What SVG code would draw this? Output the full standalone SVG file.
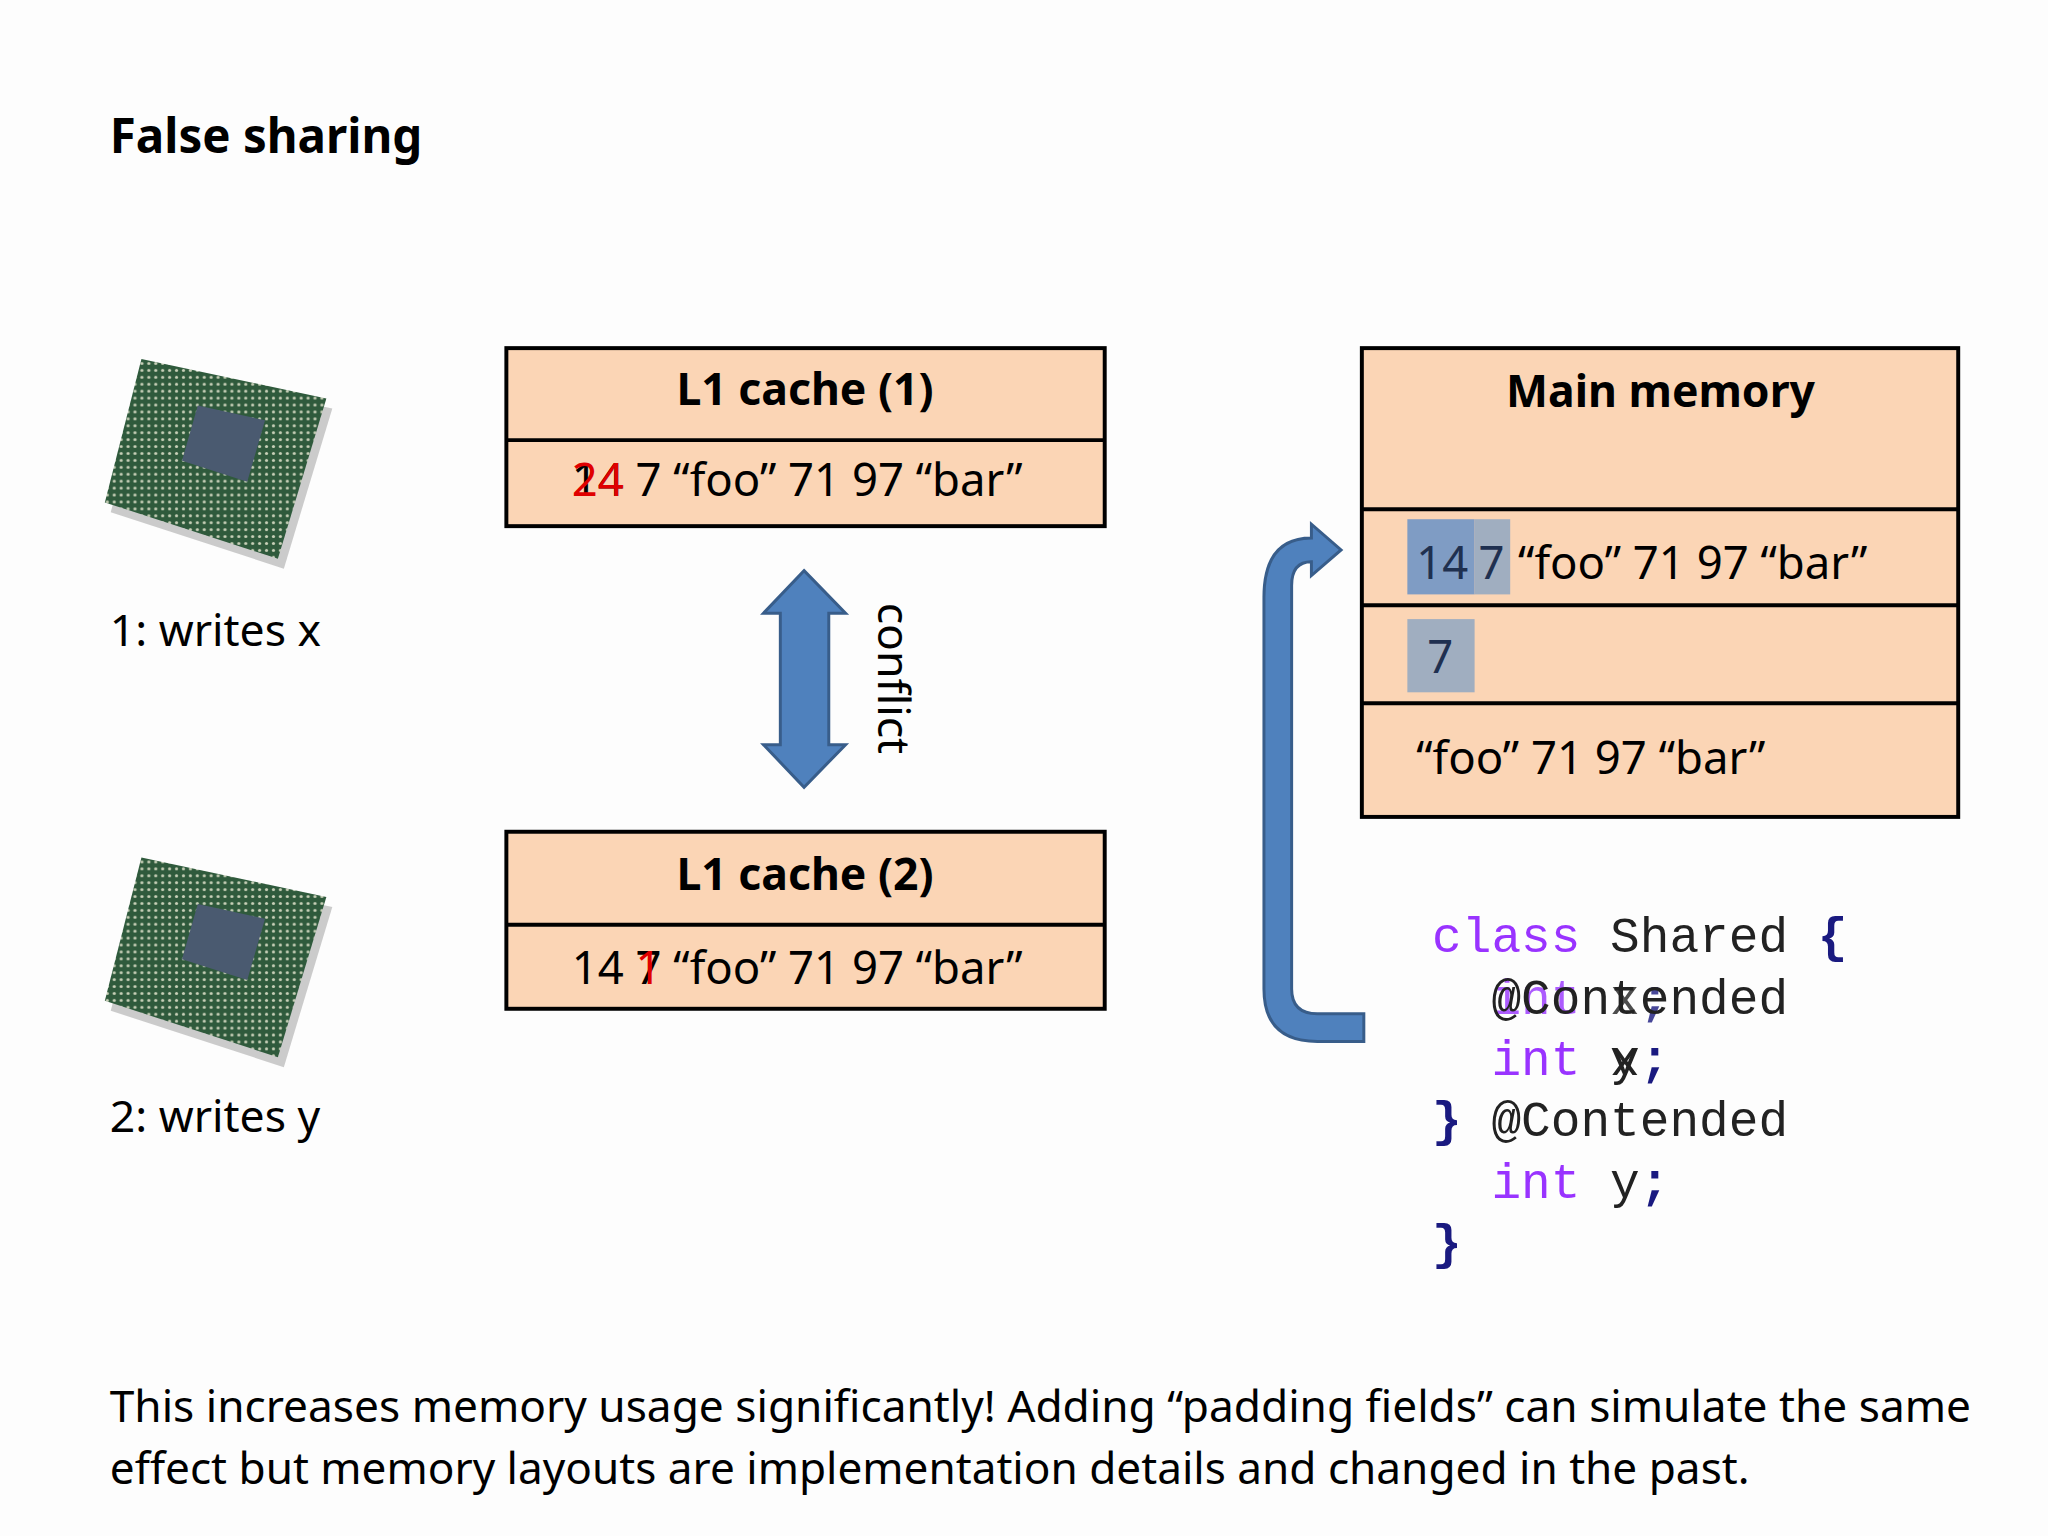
<svg xmlns="http://www.w3.org/2000/svg" width="2048" height="1536" viewBox="0 0 2048 1536">
<style>
.s{font-family:"Noto Sans","Open Sans",sans-serif;fill:#000}
.b{font-weight:bold}
.box{fill:#fbd5b5;stroke:#000;stroke-width:4}
.m{font-family:"Liberation Mono","DejaVu Sans Mono",monospace;font-size:50px;fill:#222;white-space:pre}
.kw{fill:#9933ff}
.br{fill:#1a1a80;font-weight:bold}
</style>
<defs>
<pattern id="dots" width="7" height="7" patternUnits="userSpaceOnUse">
<rect width="7" height="7" fill="#2f5a3c"/><circle cx="3.5" cy="3.5" r="1.6" fill="#c8d0b8"/>
</pattern>
</defs>
<rect width="2048" height="1536" fill="#fdfdfd"/>
<g transform="scale(0.989)">
<text class="s b" x="111" y="155" font-size="48">False sharing</text>
<g id="cpu1">
<polygon points="143,363 330,403 281,565 106,508" fill="#9a9a9a" opacity="0.5" transform="translate(6,10)"/>
<polygon points="143,363 330,403 281,565 106,508" fill="url(#dots)"/>
<polygon points="200,410 268,425 250,487 184,466" fill="#4a5a70"/>
<text class="s" x="111" y="653" font-size="45">1: writes x</text>
</g>
<g id="cpu2">
<polygon points="143,867 330,907 281,1069 106,1012" fill="#9a9a9a" opacity="0.5" transform="translate(6,10)"/>
<polygon points="143,867 330,907 281,1069 106,1012" fill="url(#dots)"/>
<polygon points="200,914 268,929 250,991 184,970" fill="#4a5a70"/>
<text class="s" x="111" y="1145" font-size="45">2: writes y</text>
</g>
<g id="l1a">
<rect class="box" x="512" y="352" width="605" height="180"/>
<line x1="512" y1="445" x2="1117" y2="445" stroke="#000" stroke-width="4"/>
<text class="s b" x="814" y="409" font-size="45" text-anchor="middle">L1 cache (1)</text>
<text class="s" x="578" y="502" font-size="46">14 7 “foo” 71 97 “bar”</text>
<text class="s" x="578" y="502" font-size="46" style="fill:#e00000">24</text>
</g>
<g id="l1b">
<rect class="box" x="512" y="841" width="605" height="179"/>
<line x1="512" y1="935" x2="1117" y2="935" stroke="#000" stroke-width="4"/>
<text class="s b" x="814" y="900" font-size="45" text-anchor="middle">L1 cache (2)</text>
<text class="s" x="578" y="995" font-size="46">14 7 “foo” 71 97 “bar”</text>
<text class="s" x="578" y="995" font-size="46" style="fill:#e00000"><tspan style="fill:none">14 </tspan>1</text>
</g>
<g id="mem">
<rect class="box" x="1377" y="352" width="603" height="474"/>
<line x1="1377" y1="515" x2="1980" y2="515" stroke="#000" stroke-width="4"/>
<line x1="1377" y1="612" x2="1980" y2="612" stroke="#000" stroke-width="4"/>
<line x1="1377" y1="711" x2="1980" y2="711" stroke="#000" stroke-width="4"/>
<text class="s b" x="1679" y="412" font-size="45" text-anchor="middle">Main memory</text>
<rect x="1423" y="525" width="68" height="76" fill="#7f9cc4"/>
<rect x="1491" y="525" width="36" height="76" fill="#a0aec0"/>
<text class="s" x="1432" y="585" font-size="46" style="fill:#1f3050">14</text>
<text class="s" x="1495" y="585" font-size="46" style="fill:#1f3050">7</text>
<text class="s" x="1535" y="585" font-size="46">“foo” 71 97 “bar”</text>
<rect x="1423" y="626" width="68" height="74" fill="#a0aec0"/>
<text class="s" x="1443" y="680" font-size="46" style="fill:#1f3050">7</text>
<text class="s" x="1432" y="783" font-size="46">“foo” 71 97 “bar”</text>
</g>
<g id="code">
<text class="m" x="1448" y="963"><tspan class="kw">class</tspan> Shared <tspan class="br">{</tspan></text>
<text class="m" x="1448" y="1025" opacity="0.8">  <tspan class="kw">int</tspan> x<tspan class="br">;</tspan></text>
<text class="m" x="1448" y="1025">  @Contended</text>
<text class="m" x="1448" y="1087">      y</text>
<text class="m" x="1448" y="1087">  <tspan class="kw">int</tspan> x<tspan class="br">;</tspan></text>
<text class="m" x="1448" y="1149"><tspan class="br">}</tspan> @Contended</text>
<text class="m" x="1448" y="1211">  <tspan class="kw">int</tspan> y<tspan class="br">;</tspan></text>
<text class="m" x="1448" y="1273"><tspan class="br">}</tspan></text>
</g>
<g id="connectors" fill="#4f81bd" stroke="#385d8a" stroke-width="3">
<polygon points="813,577 855,620 838,620 838,753 855,753 813,796 772,753 789,753 789,620 772,620"/>
<path d="M1379,1025 L1332,1025 Q1306,1025 1306,1000 L1306,592 Q1306,568 1326,568 L1326,582 L1356,556 L1326,530 L1326,544 Q1278,544 1278,604 L1278,1000 Q1278,1053 1332,1053 L1379,1053 Z"/>
</g>
<text class="s" x="888" y="686" font-size="45" text-anchor="middle" transform="rotate(90 888 686)">conflict</text>
<text class="s" x="111" y="1438" font-size="44" textLength="1882" lengthAdjust="spacingAndGlyphs">This increases memory usage significantly! Adding “padding fields” can simulate the same</text>
<text class="s" x="111" y="1500" font-size="44" textLength="1658" lengthAdjust="spacingAndGlyphs">effect but memory layouts are implementation details and changed in the past.</text>
</g>
</svg>
